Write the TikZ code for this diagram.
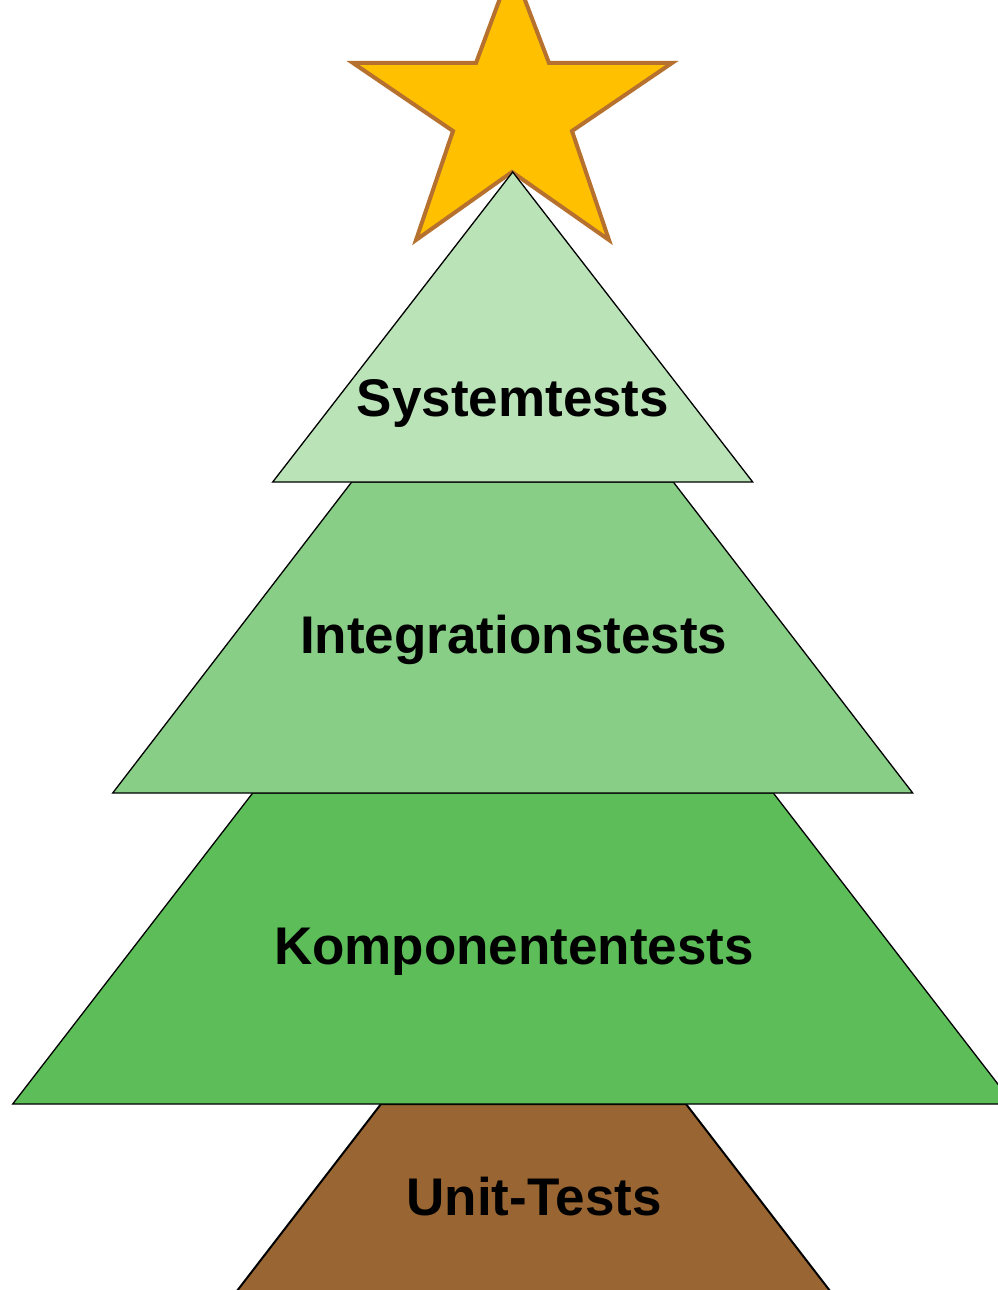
\documentclass[tikz,border=0pt]{standalone}
\usepackage{fontspec}
\setmainfont{Liberation Sans}
\definecolor{starfill}{HTML}{FFC000}
\definecolor{starline}{HTML}{B7712F}
\definecolor{greenA}{HTML}{BAE3B8}
\definecolor{greenB}{HTML}{88CE87}
\definecolor{greenC}{HTML}{5CBD59}
\definecolor{trunk}{HTML}{996633}
\tikzset{
  layer/.style={draw=black, line width=1.3pt, line join=miter},
  label/.style={font=\fontsize{53}{60}\selectfont\bfseries, anchor=base, inner sep=0pt, text=black}
}
\begin{document}
\begin{tikzpicture}[x=1pt,y=-1pt]
\useasboundingbox (0,0) rectangle (998,1290);
\fill[white] (0,0) rectangle (998,1290);
\clip (0,0) rectangle (998,1290);
% star
\draw[fill=starfill, draw=starline, line width=4pt, line join=miter]
  (512,-34) -- (549,63) -- (672,63) -- (572,131) -- (609,240) -- (512,172)
  -- (416,240) -- (453,131) -- (353,63) -- (476,63) -- cycle;
% trunk
\draw[layer, fill=trunk, line width=2pt] (381,1104) -- (686,1104) -- (837,1300) -- (230,1300) -- cycle;
% tree layers
\draw[layer, fill=greenC] (252.7,793) -- (773.3,793) -- (1013.3,1104) -- (12.7,1104) -- cycle;
\draw[layer, fill=greenB] (351.7,482) -- (673.3,482) -- (912.7,793) -- (112.7,793) -- cycle;
\draw[layer, fill=greenA] (512.7,172) -- (752.7,482) -- (272.7,482) -- cycle;
% labels
\node[label] (sys) at (513,416) {Systemtests};
\node[label] (int) at (513.7,653) {Integrationstests};
\node[label] (komp) at (514,964) {Komponententests};
\node[label] (unit) at (534,1215) {Unit-Tests};
\end{tikzpicture}
\end{document}
